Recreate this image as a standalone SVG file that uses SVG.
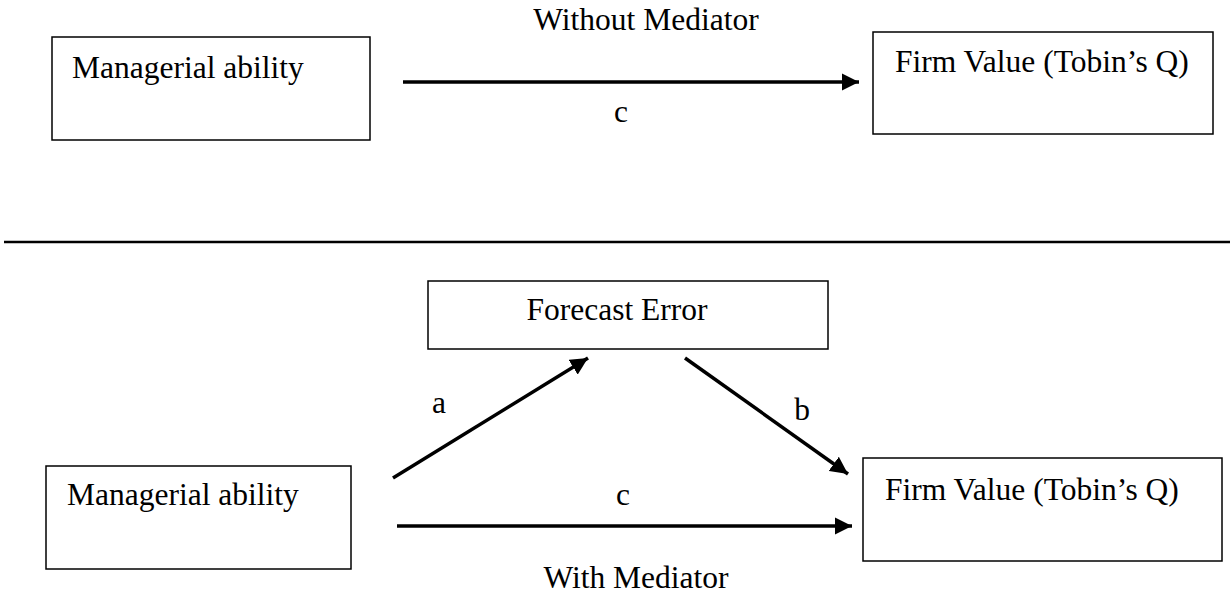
<svg xmlns="http://www.w3.org/2000/svg" width="1230" height="593" viewBox="0 0 1230 593">
<style>
.box{fill:#fff;stroke:#000;stroke-width:1.5}
.t{font-family:"Liberation Serif","Times New Roman",serif;font-size:31.5px;fill:#000}
.c{stroke:#000;stroke-width:3.5;fill:none}
</style>
<defs>
<marker id="ah" viewBox="0 0 10 10" refX="10" refY="5" markerWidth="5" markerHeight="5" markerUnits="strokeWidth" orient="auto">
<path d="M0,0 L10,5 L0,10 z" fill="#000"/>
</marker>
</defs>
<rect width="1230" height="593" fill="#fff"/>
<text class="t" x="646" y="30" text-anchor="middle">Without Mediator</text>
<g id="n-ma-top"><rect class="box" x="52" y="37" width="318" height="103"/><text class="t" x="72" y="78">Managerial ability</text></g>
<g id="n-fv-top"><rect class="box" x="873" y="32" width="340" height="102"/><text class="t" x="895" y="72">Firm Value (Tobin’s Q)</text></g>
<line x1="4" y1="242" x2="1230" y2="242" stroke="#000" stroke-width="2.5"/>
<g id="n-fe"><rect class="box" x="428" y="281" width="400" height="68"/><text class="t" x="617" y="320" text-anchor="middle">Forecast Error</text></g>
<g id="n-ma-bot"><rect class="box" x="46" y="466" width="305" height="103"/><text class="t" x="67" y="505">Managerial ability</text></g>
<g id="n-fv-bot"><rect class="box" x="863" y="458" width="359" height="103" stroke-width="2.5"/><text class="t" x="885" y="500">Firm Value (Tobin’s Q)</text></g>
<g id="connectors">
<line class="c" x1="403" y1="82" x2="859" y2="82" marker-end="url(#ah)"/>
<line class="c" x1="393" y1="478" x2="588" y2="358" marker-end="url(#ah)"/>
<line class="c" x1="685" y1="358" x2="848" y2="474" marker-end="url(#ah)"/>
<line class="c" x1="397" y1="526" x2="852" y2="526" marker-end="url(#ah)"/>
</g>
<text class="t" x="621" y="122" text-anchor="middle">c</text>
<text class="t" x="439" y="413" text-anchor="middle">a</text>
<text class="t" x="802" y="420" text-anchor="middle">b</text>
<text class="t" x="623" y="505" text-anchor="middle">c</text>
<text class="t" x="636" y="588" text-anchor="middle">With Mediator</text>
</svg>
